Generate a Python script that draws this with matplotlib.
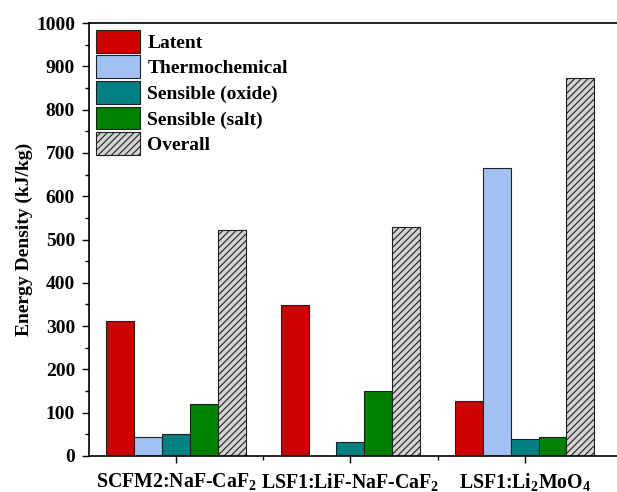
import numpy as np
import matplotlib
matplotlib.use("Agg")
import matplotlib.pyplot as plt
from matplotlib.ticker import MultipleLocator, FixedLocator

plt.rcParams['font.family'] = ['Liberation Serif', 'DejaVu Serif']
plt.rcParams['font.weight'] = 'bold'
plt.rcParams['mathtext.fontset'] = 'custom'
plt.rcParams['mathtext.rm'] = 'Liberation Serif:bold'
plt.rcParams['mathtext.bf'] = 'Liberation Serif:bold'
plt.rcParams['mathtext.default'] = 'bf'
plt.rcParams['hatch.color'] = '#505050'
plt.rcParams['hatch.linewidth'] = 0.8

categories = [r'SCFM2:NaF-CaF$_2$', r'LSF1:LiF-NaF-CaF$_2$', r'LSF1:Li$_2$MoO$_4$']
series = ['Latent', 'Thermochemical', 'Sensible (oxide)', 'Sensible (salt)', 'Overall']
latent = [312, 349, 128]
thermochemical = [43, 0, 664]
sensible_oxide = [51, 32, 40]
sensible_salt = [119, 151, 44]
overall = [522, 529, 874]

values = [latent, thermochemical, sensible_oxide, sensible_salt, overall]
colors = ['#CC0000', '#A3C0F5', '#008080', '#008000', '#D3D3D3']
hatches = [None, None, None, None, '/////']

fig = plt.figure(figsize=(6.17, 4.92), dpi=100)
ax = fig.add_axes([89/617, 36/492, 1 - 89/617, (456 - 23)/492])

x = np.arange(1, len(categories) + 1)
width = 0.16
for i, (name, vals) in enumerate(zip(series, values)):
    offs = (i - 2) * width
    ax.bar(x + offs, vals, width, color=colors[i], edgecolor='#202020',
           linewidth=0.8, hatch=hatches[i], label=name, zorder=2)

ax.set_xlim(0.5, 3.53)
ax.set_ylim(0, 1000)
ax.set_xticks(x)
ax.set_xticklabels(categories, fontsize=14.3, fontweight='bold')
ax.xaxis.set_minor_locator(FixedLocator([1.5, 2.5]))
ax.yaxis.set_major_locator(MultipleLocator(100))
ax.yaxis.set_minor_locator(MultipleLocator(50))
ax.tick_params(axis='both', which='major', direction='out', length=5, width=1.0)
ax.tick_params(axis='both', which='minor', direction='out', length=3, width=1.0)
ax.tick_params(axis='y', which='major', pad=5, labelsize=14)
ax.tick_params(axis='x', which='major', pad=6)
for lab in ax.get_yticklabels():
    lab.set_fontweight('bold')

ax.spines['right'].set_visible(False)
for s in ['left', 'bottom', 'top']:
    ax.spines[s].set_linewidth(1.2)

ax.set_ylabel('Energy Density (kJ/kg)', fontsize=14, fontweight='bold', labelpad=2)

ax.legend(loc='upper left', bbox_to_anchor=(0.0, 1.0), frameon=False,
          prop={'size': 14, 'weight': 'bold'}, handlelength=2.25,
          handleheight=1.42, labelspacing=0.15, handletextpad=0.4,
          borderpad=0.35, borderaxespad=0.0)

fig.savefig('out.png', dpi=100)
